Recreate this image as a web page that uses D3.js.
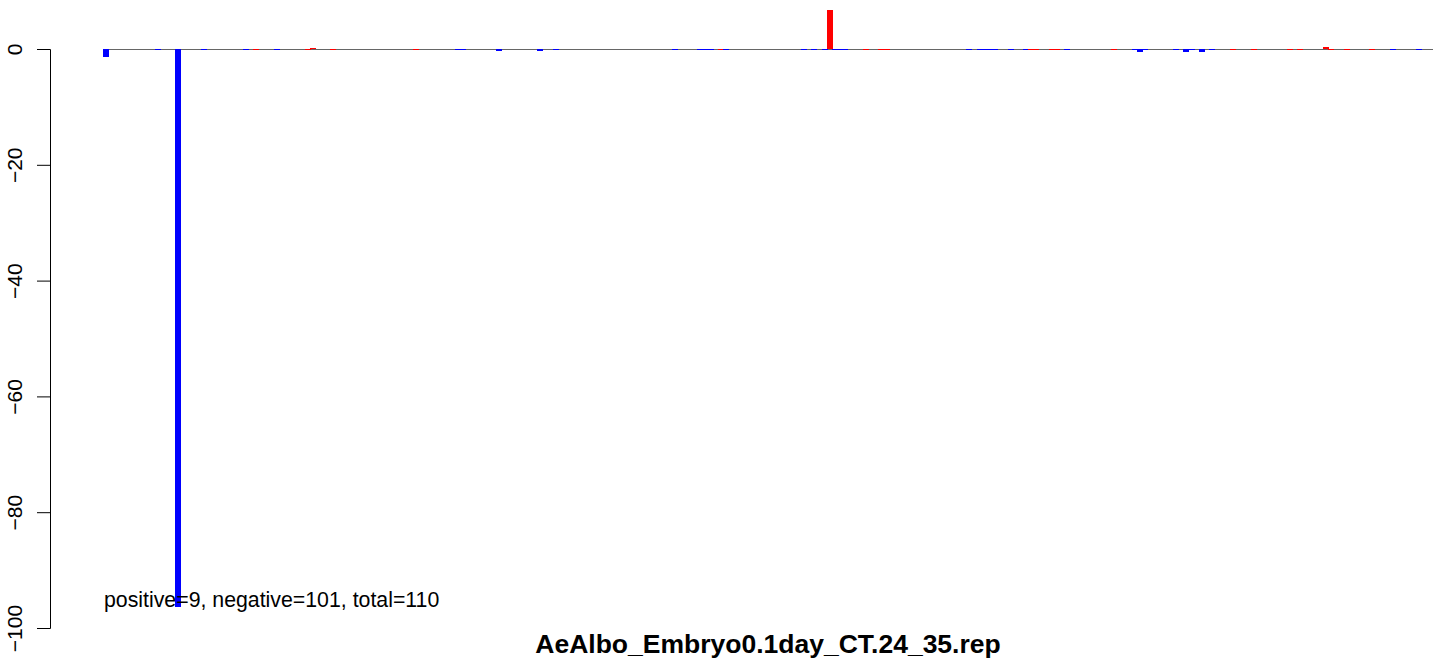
<!DOCTYPE html>
<html>
<head>
<meta charset="utf-8">
<script src="https://cdn.jsdelivr.net/npm/d3@7"></script>
<style>
  html, body { margin: 0; padding: 0; background: #ffffff; }
  svg { display: block; }
  text { font-family: "Liberation Sans", Arial, Helvetica, sans-serif; }
</style>
</head>
<body>
<script>
// ---- data ----
const positions = [1, 11, 15, 20, 28, 30, 34, 40, 41, 45, 61, 69, 70, 77, 85, 88, 111, 116, 117, 118, 120, 121,
  136, 138, 140, 141, 142, 143, 144, 148, 151, 152, 168, 170, 171, 172, 173, 176, 179, 180, 181, 184, 185, 187,
  196, 200, 201, 202, 208, 210, 211, 213, 215, 219, 223, 230, 232, 237, 238, 241, 246, 250, 255];
const values = [-1.3, -0.15, -96.3, -0.15, -0.15, 0.1, -0.15, 0.1, 0.3, 0.1, 0.1, -0.15, -0.15, -0.3, -0.3, -0.15, -0.15, -0.15, -0.15, -0.15, 0.1, -0.15,
  -0.15, -0.15, -0.15, 6.8, -0.15, -0.15, -0.15, 0.1, 0.1, 0.1, -0.15, -0.15, -0.15, -0.15, -0.15, -0.15, -0.15, 0.1, 0.1, 0.1, 0.1, -0.15,
  0.1, -0.15, -0.4, -0.15, -0.15, -0.4, -0.15, -0.4, -0.15, 0.1, 0.1, 0.1, 0.1, 0.35, 0.1, 0.1, 0.1, -0.15, -0.15];
const groups = values.map(v => v >= 0 ? "pos" : "neg");
const lineRange = [1, 258];
const yTicks = [0, -20, -40, -60, -80, -100];
const yDomain = [0, -100];
const note = "positive=9, negative=101, total=110";
const title = "AeAlbo_Embryo0.1day_CT.24_35.rep";

// ---- layout ----
const W = 1433, H = 658;
const svg = d3.select("body").append("svg").attr("width", W).attr("height", H);

const x = d3.scaleLinear().domain([1, 255]).range([106, 1419]);
const y = d3.scaleLinear().domain(yDomain).range([49.5, 628.5]);
const color = d3.scaleOrdinal().domain(["pos", "neg"]).range(["#ff0000", "#0000ff"]);
const barW = 6;

// zero line
svg.append("line")
  .attr("x1", x(lineRange[0])).attr("x2", x(lineRange[1]))
  .attr("y1", y(0)).attr("y2", y(0))
  .attr("stroke", "#666666").attr("stroke-width", 1);

// bars
const y0 = y(0) - 0.5;
svg.append("g").attr("shape-rendering", "crispEdges")
  .selectAll("rect").data(positions.map((p, i) => ({p, v: values[i], g: groups[i]})))
  .join("rect")
  .attr("x", d => Math.round(x(d.p) - barW / 2))
  .attr("width", barW)
  .attr("y", d => d.v >= 0 ? Math.min(y(d.v), y0) : y0)
  .attr("height", d => Math.max(1, Math.abs(y(d.v) - y0)))
  .attr("fill", d => color(d.g));

// y axis (R style)
const ax = svg.append("g");
const axX = 50.5;
ax.append("line").attr("x1", axX).attr("x2", axX)
  .attr("y1", y(yTicks[0])).attr("y2", y(yTicks[yTicks.length - 1]))
  .attr("stroke", "#000").attr("stroke-width", 1);
ax.selectAll("line.tick").data(yTicks).join("line").attr("class", "tick")
  .attr("x1", 37).attr("x2", axX)
  .attr("y1", d => y(d)).attr("y2", d => y(d))
  .attr("stroke", "#000").attr("stroke-width", 1);
ax.selectAll("text").data(yTicks).join("text")
  .attr("transform", d => `translate(22,${y(d)}) rotate(-90)`)
  .attr("text-anchor", "middle")
  .attr("font-size", 21)
  .text(d => d < 0 ? "\u2212" + Math.abs(d) : String(d));

// annotation
svg.append("text")
  .attr("x", x(positions[0]) - 2).attr("y", 607)
  .attr("font-size", 21.3)
  .text(note);

// title
svg.append("text")
  .attr("x", 768).attr("y", 653)
  .attr("text-anchor", "middle")
  .attr("font-size", 26.5).attr("font-weight", "bold")
  .text(title);
</script>
</body>
</html>
